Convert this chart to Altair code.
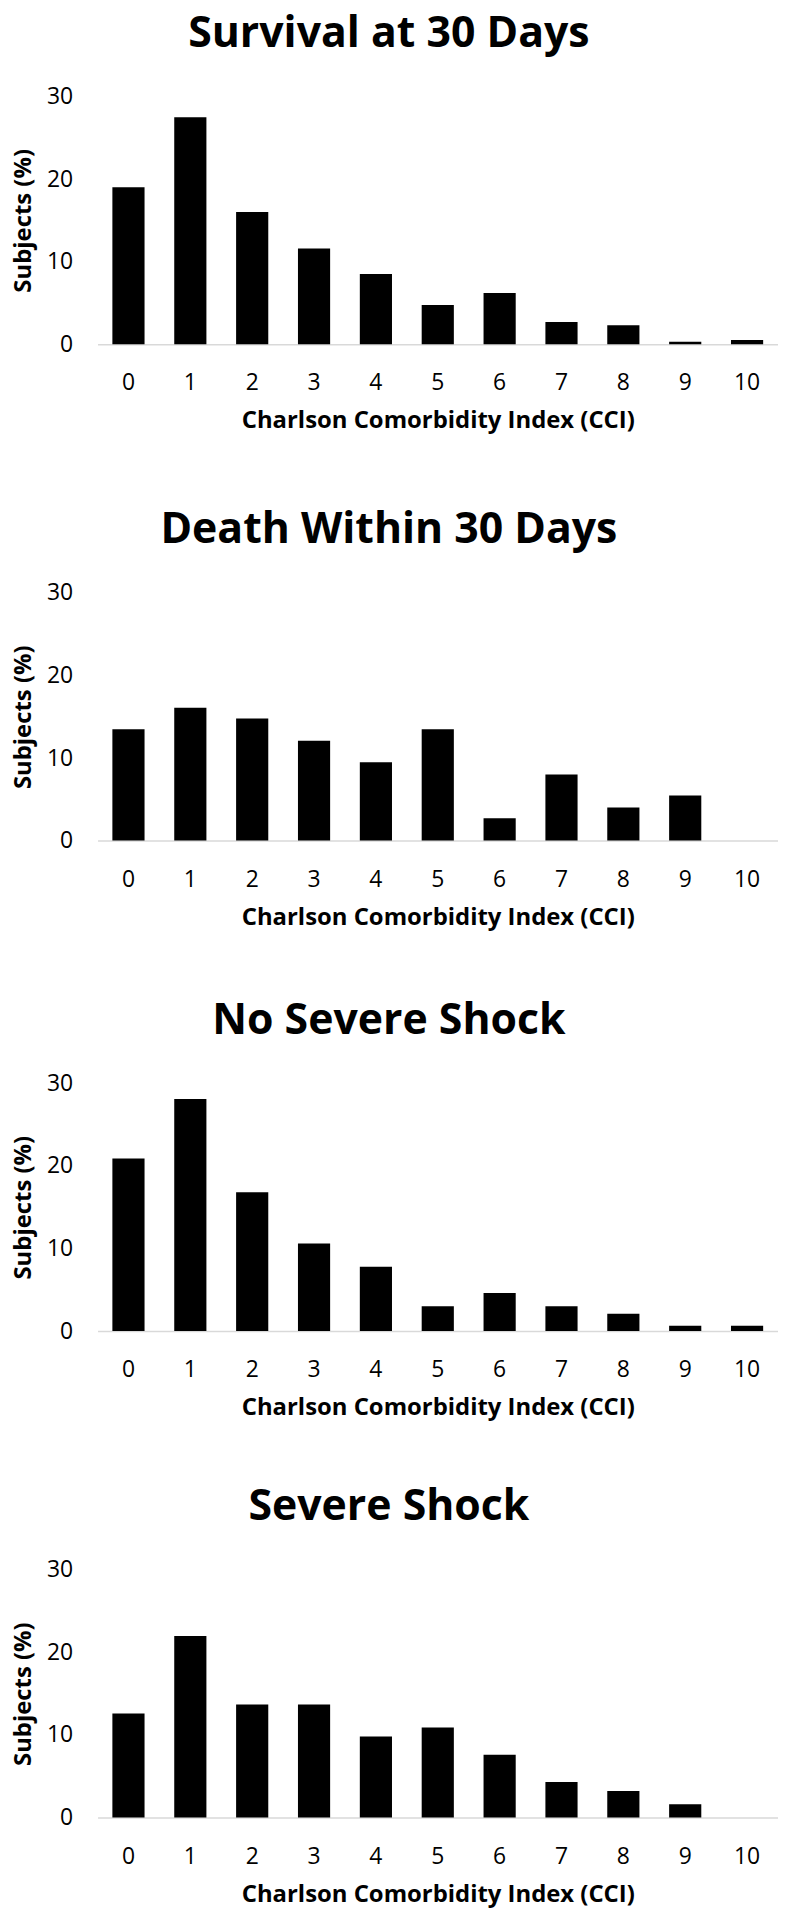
import altair as alt
import pandas as pd

# CCI categories (x axis)
cci = ["0", "1", "2", "3", "4", "5", "6", "7", "8", "9", "10"]

# Panel titles
titles = ["Survival at 30 Days", "Death Within 30 Days", "No Severe Shock", "Severe Shock"]

# Subjects (%) per CCI value
survival_30 = [19.0, 27.5, 16.0, 11.6, 8.5, 4.75, 6.2, 2.7, 2.3, 0.3, 0.5]
death_30 = [13.5, 16.1, 14.8, 12.1, 9.5, 13.5, 2.7, 8.0, 4.0, 5.45, 0.0]
no_severe_shock = [20.9, 28.1, 16.8, 10.6, 7.8, 3.0, 4.6, 3.0, 2.1, 0.65, 0.65]
severe_shock = [12.6, 22.0, 13.7, 13.7, 9.8, 10.9, 7.6, 4.3, 3.2, 1.6, 0.0]

y_ticks = [0, 10, 20, 30]

FONT = "Open Sans"


def panel(title, values):
    df = pd.DataFrame({"CCI": cci, "Subjects": values})
    return (
        alt.Chart(df, title=alt.TitleParams(title, dx=-6))
        .mark_bar(color="black")
        .encode(
            x=alt.X(
                "CCI:N",
                sort=cci,
                scale=alt.Scale(paddingInner=0.48, paddingOuter=0.24),
                axis=alt.Axis(
                    title="Charlson Comorbidity Index (CCI)",
                    labelAngle=0,
                    ticks=False,
                    tickSize=0,
                    domainColor="#d9d9d9",
                    domainWidth=1.5,
                    labelPadding=28,
                    titlePadding=14,
                ),
            ),
            y=alt.Y(
                "Subjects:Q",
                scale=alt.Scale(domain=[0, 30], nice=False),
                axis=alt.Axis(
                    values=y_ticks,
                    title="Subjects (%)",
                    domain=False,
                    ticks=False,
                    tickSize=0,
                    grid=False,
                    labelPadding=25,
                    titlePadding=11,
                ),
            ),
        )
        .properties(width=684, height=249)
    )


chart = (
    alt.vconcat(
        panel(titles[0], survival_30),
        alt.vconcat(
            panel(titles[1], death_30),
            alt.vconcat(
                panel(titles[2], no_severe_shock),
                panel(titles[3], severe_shock),
                spacing=67,
            ),
            spacing=71,
        ),
        spacing=77,
    )
    .configure(padding={"left": 3, "top": 0, "right": 0, "bottom": 0}, background="white")
    .configure_view(stroke=None)
    .configure_title(
        font=FONT,
        fontSize=43,
        fontWeight="bold",
        color="black",
        anchor="middle",
        frame="bounds",
        offset=30,
    )
    .configure_axis(
        labelFont=FONT,
        labelFontSize=23,
        labelColor="black",
        titleFont=FONT,
        titleFontSize=24,
        titleFontWeight="bold",
        titleColor="black",
    )
)

chart.save("out.html", embed_options={"renderer": "svg", "actions": False})
